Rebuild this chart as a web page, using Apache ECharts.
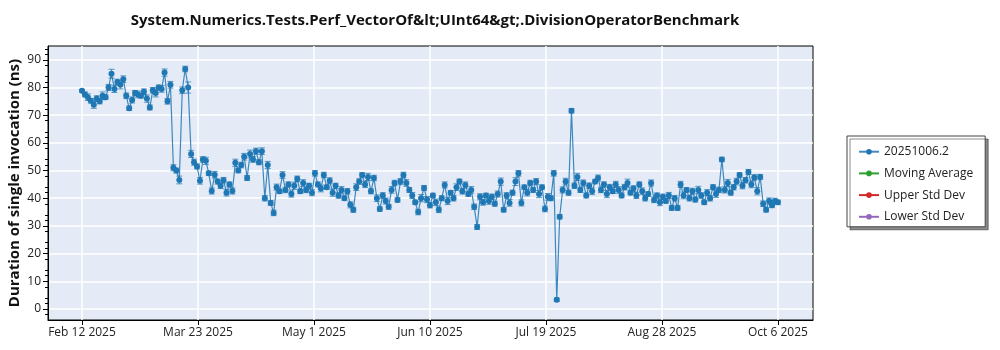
<!DOCTYPE html>
<html>
<head>
<meta charset="utf-8">
<script src="https://cdn.jsdelivr.net/npm/echarts@6/dist/echarts.min.js"></script>
<style>
  html, body { margin: 0; padding: 0; background: #fff; }
  #chart { width: 1000px; height: 350px; }
</style>
</head>
<body>
<div id="chart"></div>
<script>
// Per-run durations (ns), one value per day, grouped by month; each month starts at its *Start day.
const febStart = 12;
const febValues = [78.8, 77.5, 76.5, 75.2, 73.8, 76, 75, 77, 76.5, 80, 85, 79.5, 82, 81, 83, 77, 72.5];
const febErrors = [0.5, 0.9, 1.2, 0.8, 1.3, 1.0, 0.9, 1.4, 0.8, 1.1, 1.6, 1.3, 1.0, 1.5, 1.2, 1.0, 0.8];

const marStart = 1;
const marValues = [75.5, 78, 77.5, 77, 78.5, 76, 72.8, 79, 78, 80, 79.5, 85.4, 75, 81, 51, 50, 46.6, 79, 86.7, 80,
                   56, 53, 51.5, 46.3, 54, 53.5, 49, 42.6, 48.5, 46, 44.5];
const marErrors = [1.1, 0.9, 1.2, 0.8, 1.0, 1.3, 0.9, 1.0, 1.4, 0.9, 1.2, 1.3, 1.0, 1.2, 1.1, 0.9, 1.4, 1.2, 1.0, 2.0,
                   1.3, 1.1, 0.9, 1.2, 1.0, 1.3, 0.8, 1.1, 1.2, 0.9, 1.0];

const aprStart = 1;
const aprValues = [46.5, 42, 45, 42.6, 52.8, 50, 52, 55, 47.3, 56, 54, 57, 53, 57, 40, 52, 38.3, 34.7, 44, 42.5,
                   48.4, 43, 45, 41.5, 44.5, 47, 42.5, 45.5, 43, 44.5];
const aprErrors = [1.0, 1.2, 0.9, 1.1, 1.3, 0.8, 1.0, 1.2, 0.9, 1.4, 1.0, 1.1, 0.9, 1.2, 1.0, 1.3, 0.9, 1.0, 1.1, 0.8,
                   1.2, 1.0, 0.9, 1.1, 1.3, 1.0, 0.8, 1.2, 1.0, 0.9];

const mayStart = 1;
const mayValues = [42, 49, 45, 43.5, 48.4, 44, 46.3, 42, 44.5, 41, 43, 40, 42.5, 37.6, 35.8, 44, 46, 48.4, 45, 47.7,
                   42.5, 47.3, 40, 36.1, 41, 39, 36.9, 43, 45.5, 39.4, 46];
const mayErrors = [1.1, 1.0, 0.9, 1.2, 1.0, 0.8, 1.1, 1.3, 0.9, 1.0, 1.2, 0.8, 1.0, 1.1, 0.9, 1.2, 1.0, 0.8, 1.1, 1.3,
                   0.9, 1.0, 1.2, 0.8, 1.0, 1.1, 0.9, 1.2, 1.0, 0.8, 1.1];

const junStart = 1;
const junValues = [48.4, 45.5, 43, 41, 38.5, 35, 40, 43.7, 39.5, 37.5, 41, 38.5, 35.8, 40, 44.8, 39, 42, 40, 44, 46,
                   42.5, 44.8, 41.5, 43, 36.9, 29.6, 40.5, 38.5, 41, 39];
const junErrors = [1.0, 1.2, 0.9, 1.1, 0.8, 1.0, 1.3, 0.9, 1.1, 1.0, 0.8, 1.2, 1.0, 0.9, 1.1, 1.3, 0.8, 1.0, 1.2, 0.9,
                   1.0, 1.1, 0.8, 1.2, 1.0, 0.9, 1.1, 1.0, 0.8, 1.2];

const julStart = 1;
const julValues = [40.5, 38, 41.5, 46, 35.8, 41, 38.3, 42, 46, 49, 38.3, 44, 42, 45.5, 43, 46, 41.5, 44, 36.1, 40.5,
                   40, 49, 3.3, 33.3, 43, 46, 42, 71.6, 44.5, 47.7, 43];
const julErrors = [1.0, 0.9, 1.1, 1.3, 0.8, 1.0, 1.2, 0.9, 1.4, 1.0, 1.1, 0.8, 1.2, 1.0, 0.9, 1.1, 1.3, 0.8, 1.0, 1.2,
                   0.9, 1.0, 0.6, 0.8, 1.1, 1.2, 0.9, 0.8, 1.0, 1.3, 0.9];

const augStart = 1;
const augValues = [45.5, 41, 44.5, 42.5, 46, 47.3, 43, 45, 41.5, 44, 42.5, 45, 43, 41, 44, 45.5, 42, 43.5, 41, 45,
                   42.5, 40, 41.5, 45.5, 39.4, 41, 38.5, 40.5, 39, 41, 36.5];
const augErrors = [1.1, 0.9, 1.0, 1.2, 0.8, 1.1, 1.0, 0.9, 1.3, 1.0, 0.8, 1.1, 1.2, 0.9, 1.0, 1.4, 0.8, 1.0, 1.1, 0.9,
                   1.2, 1.0, 0.8, 1.1, 1.0, 0.9, 1.2, 1.0, 0.8, 1.1, 0.9];

const sepStart = 1;
const sepValues = [40, 36.5, 45, 41, 43, 40, 42.5, 39.5, 43, 41, 38.5, 42, 40, 44, 41.5, 43, 54, 43, 45.5, 42,
                   44, 46, 48.4, 44.5, 46.5, 49.5, 45, 47.5, 42.5, 47.7];
const sepErrors = [1.0, 0.9, 1.1, 1.2, 0.8, 1.0, 1.1, 0.9, 1.3, 1.0, 0.8, 1.1, 1.0, 0.9, 1.2, 1.0, 0.8, 1.1, 1.3, 0.9,
                   1.0, 1.2, 0.8, 1.1, 1.0, 0.9, 1.2, 1.0, 1.3, 0.9];

const octStart = 1;
const octValues = [38, 35.8, 39, 37.5, 39, 38.5];
const octErrors = [1.0, 0.8, 1.1, 0.9, 1.0, 0.8];

// Date-axis tick labels; ticks sit 118/3 days apart, starting at Feb 12
const xTickLabels = ['Feb 12 2025', 'Mar 23 2025', 'May 1 2025', 'Jun 10 2025', 'Jul 19 2025', 'Aug 28 2025', 'Oct 6 2025'];
const yTickValues = [0, 10, 20, 30, 40, 50, 60, 70, 80, 90];

const seriesNames = ['20251006.2', 'Moving Average', 'Upper Std Dev', 'Lower Std Dev'];
const seriesColors = ['#1f77b4', '#2ca02c', '#d62728', '#9467bd'];

const titleText = 'System.Numerics.Tests.Perf_VectorOf&lt;UInt64&gt;.DivisionOperatorBenchmark';
const yAxisTitle = 'Duration of single invocation (ns)';

// x positions are days since Feb 12 2025
const DAY = 86400000;
const origin = Date.UTC(2025, 1, 12);
const months = [
  [1, febStart, febValues, febErrors],
  [2, marStart, marValues, marErrors],
  [3, aprStart, aprValues, aprErrors],
  [4, mayStart, mayValues, mayErrors],
  [5, junStart, junValues, junErrors],
  [6, julStart, julValues, julErrors],
  [7, augStart, augValues, augErrors],
  [8, sepStart, sepValues, sepErrors],
  [9, octStart, octValues, octErrors]
];
const points = [];
months.forEach(([m, start, vals, errs]) => {
  vals.forEach((v, i) => {
    const d = (Date.UTC(2025, m, start + i) - origin) / DAY;
    points.push([d, v, errs[i]]);
  });
});

const tickStep = 118 / 3;
const xTickValues = xTickLabels.map((_, i) => i * tickStep);
const FONT = '"Open Sans", "Noto Sans", sans-serif';

const chart = echarts.init(document.getElementById('chart'), null, { renderer: 'canvas' });

chart.setOption({
  animation: false,
  backgroundColor: '#ffffff',
  title: {
    text: titleText,
    left: 430,
    top: 8,
    textAlign: 'center',
    textStyle: { fontFamily: FONT, fontSize: 15, fontWeight: 'bold', color: '#111' }
  },
  legend: {
    orient: 'vertical',
    left: 847,
    top: 136,
    padding: [9.7, 12, 4, 11],
    itemGap: 9.7,
    itemWidth: 20,
    itemHeight: 7,
    backgroundColor: '#ffffff',
    borderColor: '#444',
    borderWidth: 1,
    shadowColor: 'rgba(0,0,0,0.45)',
    shadowBlur: 0,
    shadowOffsetX: 3,
    shadowOffsetY: 3,
    textStyle: { fontFamily: FONT, fontSize: 12, color: '#222' },
    data: seriesNames
  },
  grid: {
    left: 48, right: 187, top: 46, bottom: 30,
    containLabel: false,
    outerBoundsMode: 'none',
    show: true,
    backgroundColor: '#e5ebf6',
    borderColor: '#000',
    borderWidth: 1
  },
  xAxis: {
    type: 'value',
    min: -11.53,
    max: 247.9,
    axisLine: { show: true, onZero: false, lineStyle: { color: '#000', width: 1 } },
    axisTick: { show: true, length: 5, customValues: xTickValues, lineStyle: { color: '#000' } },
    axisLabel: {
      fontFamily: FONT, fontSize: 12, color: '#222', margin: 7,
      customValues: xTickValues,
      formatter: (v) => xTickLabels[Math.round(v / tickStep)] || ''
    },
    splitLine: { show: true, lineStyle: { color: '#ffffff', width: 1.5 } }
  },
  yAxis: {
    type: 'value',
    min: -4,
    max: 95,
    interval: 10,
    name: yAxisTitle,
    nameLocation: 'middle',
    nameGap: 26,
    nameMoveOverlap: false,
    nameTextStyle: { fontFamily: FONT, fontSize: 15, fontWeight: 'bold', color: '#111' },
    axisLine: { show: true, onZero: false, lineStyle: { color: '#000', width: 1 } },
    axisTick: { show: true, length: 5, customValues: yTickValues, lineStyle: { color: '#000' } },
    minorTick: { show: true, splitNumber: 5, length: 3, lineStyle: { color: '#000' } },
    axisLabel: {
      fontFamily: FONT, fontSize: 12, color: '#222', margin: 7,
      customValues: yTickValues,
      formatter: (v) => String(v)
    },
    splitLine: { show: true, lineStyle: { color: '#ffffff', width: 1.5 } }
  },
  series: [
    {
      name: 'errors',
      type: 'custom',
      z: 2,
      silent: true,
      data: points,
      encode: { x: 0, y: 1 },
      renderItem: (params, api) => {
        const x = api.value(0), v = api.value(1), e = api.value(2);
        const top = api.coord([x, v + e]);
        const bot = api.coord([x, v - e]);
        const style = { stroke: 'rgba(31,119,180,0.75)', lineWidth: 1 };
        return {
          type: 'group',
          children: [
            { type: 'line', shape: { x1: top[0], y1: top[1], x2: bot[0], y2: bot[1] }, style },
            { type: 'line', shape: { x1: top[0] - 3, y1: top[1], x2: top[0] + 3, y2: top[1] }, style },
            { type: 'line', shape: { x1: bot[0] - 3, y1: bot[1], x2: bot[0] + 3, y2: bot[1] }, style }
          ]
        };
      }
    },
    {
      name: seriesNames[0],
      type: 'line',
      z: 3,
      data: points.map(p => [p[0], p[1]]),
      symbol: 'circle',
      symbolSize: 6,
      showSymbol: true,
      color: seriesColors[0],
      itemStyle: { color: seriesColors[0] },
      lineStyle: { color: seriesColors[0], width: 1.2, opacity: 0.85 }
    },
    { name: seriesNames[1], type: 'line', data: [], symbol: 'circle', color: seriesColors[1], itemStyle: { color: seriesColors[1] }, lineStyle: { color: seriesColors[1] } },
    { name: seriesNames[2], type: 'line', data: [], symbol: 'circle', color: seriesColors[2], itemStyle: { color: seriesColors[2] }, lineStyle: { color: seriesColors[2] } },
    { name: seriesNames[3], type: 'line', data: [], symbol: 'circle', color: seriesColors[3], itemStyle: { color: seriesColors[3] }, lineStyle: { color: seriesColors[3] } }
  ]
});
</script>
</body>
</html>
